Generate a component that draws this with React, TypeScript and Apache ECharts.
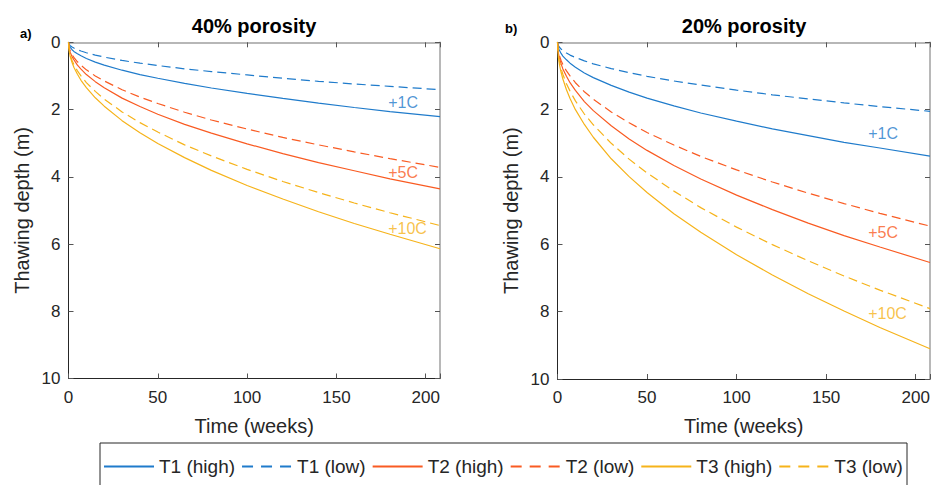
import React, { useEffect, useRef } from "react";
import * as echarts from "echarts";

// time samples (weeks)
const times = [0, 0.5, 1, 2, 3, 5, 7, 10, 15, 20, 30, 40, 50, 65, 80, 100, 120, 140, 160, 180, 208];

const seriesNames = ["T1 (high)", "T1 (low)", "T2 (high)", "T2 (low)", "T3 (high)", "T3 (low)"];
const tickLabelsX = [0, 50, 100, 150, 200];

// Panel a) 40% porosity — thawing depth (m)
const a_T1high = [0, 0.11, 0.15, 0.22, 0.27, 0.34, 0.4, 0.48, 0.59, 0.68, 0.83, 0.96, 1.07, 1.22, 1.36, 1.52, 1.67, 1.81, 1.94, 2.06, 2.21];
const a_T1low = [0, 0.07, 0.1, 0.14, 0.17, 0.22, 0.26, 0.31, 0.38, 0.44, 0.54, 0.62, 0.69, 0.79, 0.87, 0.97, 1.07, 1.16, 1.24, 1.31, 1.41];
const a_T2high = [0, 0.21, 0.3, 0.43, 0.52, 0.68, 0.8, 0.96, 1.17, 1.35, 1.66, 1.91, 2.14, 2.44, 2.7, 3.02, 3.31, 3.58, 3.82, 4.06, 4.36];
const a_T2low = [0, 0.18, 0.26, 0.37, 0.45, 0.58, 0.68, 0.82, 1.0, 1.15, 1.41, 1.63, 1.82, 2.08, 2.31, 2.58, 2.83, 3.05, 3.26, 3.46, 3.72];
const a_T3high = [0, 0.3, 0.43, 0.6, 0.74, 0.95, 1.13, 1.35, 1.65, 1.9, 2.33, 2.69, 3.01, 3.43, 3.81, 4.26, 4.66, 5.04, 5.39, 5.71, 6.14];
const a_T3low = [0, 0.27, 0.38, 0.54, 0.66, 0.85, 1.0, 1.2, 1.46, 1.69, 2.07, 2.39, 2.67, 3.05, 3.38, 3.78, 4.14, 4.47, 4.78, 5.07, 5.45];

// Panel b) 20% porosity — thawing depth (m)
const b_T1high = [0, 0.17, 0.23, 0.33, 0.41, 0.52, 0.62, 0.74, 0.91, 1.05, 1.28, 1.48, 1.66, 1.89, 2.1, 2.34, 2.57, 2.77, 2.97, 3.14, 3.38];
const b_T1low = [0, 0.1, 0.14, 0.2, 0.25, 0.32, 0.38, 0.45, 0.55, 0.64, 0.78, 0.9, 1.01, 1.15, 1.27, 1.42, 1.56, 1.68, 1.8, 1.91, 2.05];
const b_T2high = [0, 0.32, 0.45, 0.64, 0.79, 1.01, 1.2, 1.43, 1.76, 2.03, 2.48, 2.87, 3.21, 3.66, 4.06, 4.54, 4.97, 5.37, 5.74, 6.08, 6.54];
const b_T2low = [0, 0.27, 0.38, 0.54, 0.66, 0.85, 1.0, 1.2, 1.47, 1.69, 2.07, 2.39, 2.68, 3.05, 3.39, 3.79, 4.15, 4.48, 4.79, 5.08, 5.46];
const b_T3high = [0, 0.45, 0.63, 0.89, 1.09, 1.41, 1.67, 2.0, 2.44, 2.82, 3.46, 3.99, 4.46, 5.09, 5.64, 6.31, 6.91, 7.47, 7.98, 8.47, 9.1];
const b_T3low = [0, 0.39, 0.55, 0.78, 0.95, 1.23, 1.45, 1.74, 2.13, 2.45, 3.0, 3.47, 3.88, 4.42, 4.91, 5.49, 6.01, 6.49, 6.94, 7.36, 7.91];

// curve annotations: [time, depth]
const tempLabels = ["+1C", "+5C", "+10C"];
const a_labelAnchors = [[179, 1.78], [179, 3.86], [179, 5.53]];
const b_labelAnchors = [[173.5, 2.7], [173.5, 5.65], [173.5, 8.06]];

const COLORS = ["#1F7BCB", "#1F7BCB", "#F95B22", "#F95B22", "#F6B31A", "#F6B31A"];
const LABEL_COLORS = ["#1F7BCB", "#F95B22", "#F6B31A"];
const FONT = "Liberation Sans, Arial, Helvetica, sans-serif";
const TXT = "#262626";

export default function App() {
  const ref = useRef<HTMLDivElement>(null);

  useEffect(() => {
    if (!ref.current) return;
    const chart = echarts.init(ref.current, undefined, { renderer: "svg" });

    const panelA = [a_T1high, a_T1low, a_T2high, a_T2low, a_T3high, a_T3low];
    const panelB = [b_T1high, b_T1low, b_T2high, b_T2low, b_T3high, b_T3low];

    const mkLines = (panel: number[][], axisIdx: number) =>
      panel.map((vals, i) => ({
        type: "line",
        name: seriesNames[i],
        xAxisIndex: axisIdx,
        yAxisIndex: axisIdx,
        data: times.map((t, j) => [t, vals[j]]),
        symbol: "none",
        showSymbol: false,
        smooth: false,
        lineStyle: {
          color: COLORS[i],
          width: 1.2,
          type: i % 2 === 1 ? [9, 5] : "solid",
        },
        itemStyle: { color: COLORS[i] },
        z: 3,
      }));

    const mkLabels = (anchors: number[][], axisIdx: number) => ({
      type: "scatter",
      name: "labels" + axisIdx,
      xAxisIndex: axisIdx,
      yAxisIndex: axisIdx,
      symbolSize: 0,
      silent: true,
      data: anchors.map((p, i) => ({
        value: p,
        label: {
          show: true,
          formatter: tempLabels[i],
          position: "right",
          distance: 0,
          color: LABEL_COLORS[i],
          fontSize: 16,
          fontFamily: FONT,
        },
      })),
      z: 4,
    });

    const xBase = (gridIndex: number, top: boolean) => ({
      type: "value",
      gridIndex,
      position: top ? "top" : "bottom",
      min: 0,
      max: 208,
      interval: 50,
      name: top ? "" : "Time (weeks)",
      nameLocation: "middle",
      nameGap: 37,
      nameTextStyle: { color: TXT, fontSize: 20, fontFamily: FONT },
      axisLine: { show: true, onZero: false, lineStyle: { color: top ? "#A0A0A0" : TXT, width: top ? 1.5 : 1 } },
      axisTick: { show: true, inside: true, length: 5, lineStyle: { color: "#555" } },
      axisLabel: {
        show: !top,
        color: TXT,
        fontSize: 17,
        fontFamily: FONT,
        margin: 10,
        formatter: (v: number) => (tickLabelsX.indexOf(v) >= 0 ? String(v) : ""),
      },
      splitLine: { show: false },
    });

    const yBase = (gridIndex: number, right: boolean) => ({
      type: "value",
      gridIndex,
      position: right ? "right" : "left",
      inverse: true,
      min: 0,
      max: 10,
      interval: 2,
      name: right ? "" : "Thawing depth (m)",
      nameLocation: "middle",
      nameGap: 37,
      nameTextStyle: { color: TXT, fontSize: 20, fontFamily: FONT },
      axisLine: { show: true, onZero: false, lineStyle: { color: right ? "#A0A0A0" : TXT, width: right ? 1.5 : 1 } },
      axisTick: { show: true, inside: true, length: 5, lineStyle: { color: "#555" } },
      axisLabel: { show: !right, color: TXT, fontSize: 17, fontFamily: FONT, margin: 8 },
      splitLine: { show: false },
    });

    const option: any = {
      animation: false,
      backgroundColor: "#ffffff",
      textStyle: { fontFamily: FONT },
      grid: [
        { left: 68.5, right: 493, top: 42.3, bottom: 106.5, containLabel: false },
        { left: 557.5, right: 3, top: 42.3, bottom: 106, containLabel: false },
      ],
      xAxis: [xBase(0, false), xBase(0, true), xBase(1, false), xBase(1, true)],
      yAxis: [yBase(0, false), yBase(0, true), yBase(1, false), yBase(1, true)],
      legend: {
        show: true,
        orient: "horizontal",
        left: 103,
        top: 457,
        padding: 0,
        itemWidth: 50,
        itemHeight: 14,
        itemGap: 6,
        itemStyle: { opacity: 0, borderWidth: 0 },
        textStyle: { color: TXT, fontSize: 19, fontFamily: FONT },
        data: seriesNames.map((n, i) =>
          i % 2 === 1 ? { name: n, lineStyle: { type: [11, 8] } } : { name: n }
        ),
        selectedMode: false,
      },
      graphic: [
        {
          type: "rect",
          shape: { x: 100, y: 443, width: 807, height: 60 },
          style: { fill: "none", stroke: "#262626", lineWidth: 1 },
          silent: true,
          z: 0,
        },
        {
          type: "text",
          x: 254,
          y: 26,
          style: { text: "40% porosity", align: "center", verticalAlign: "middle", fontSize: 20, fontWeight: "bold", fontFamily: FONT, fill: "#000" },
        },
        {
          type: "text",
          x: 744,
          y: 26,
          style: { text: "20% porosity", align: "center", verticalAlign: "middle", fontSize: 20, fontWeight: "bold", fontFamily: FONT, fill: "#000" },
        },
        {
          type: "text",
          x: 20,
          y: 33,
          style: { text: "a)", align: "left", verticalAlign: "middle", fontSize: 13, fontWeight: "bold", fontFamily: FONT, fill: "#000" },
        },
        {
          type: "text",
          x: 505,
          y: 28,
          style: { text: "b)", align: "left", verticalAlign: "middle", fontSize: 13, fontWeight: "bold", fontFamily: FONT, fill: "#000" },
        },
      ],
      series: [
        ...mkLines(panelA, 0),
        mkLabels(a_labelAnchors, 0),
        ...mkLines(panelB, 2),
        mkLabels(b_labelAnchors, 2),
      ],
    };

    chart.setOption(option);
    return () => chart.dispose();
  }, []);

  return (
    <div
      ref={ref}
      style={{ position: "absolute", left: 0, top: 0, width: 933, height: 485, background: "#fff" }}
    />
  );
}
